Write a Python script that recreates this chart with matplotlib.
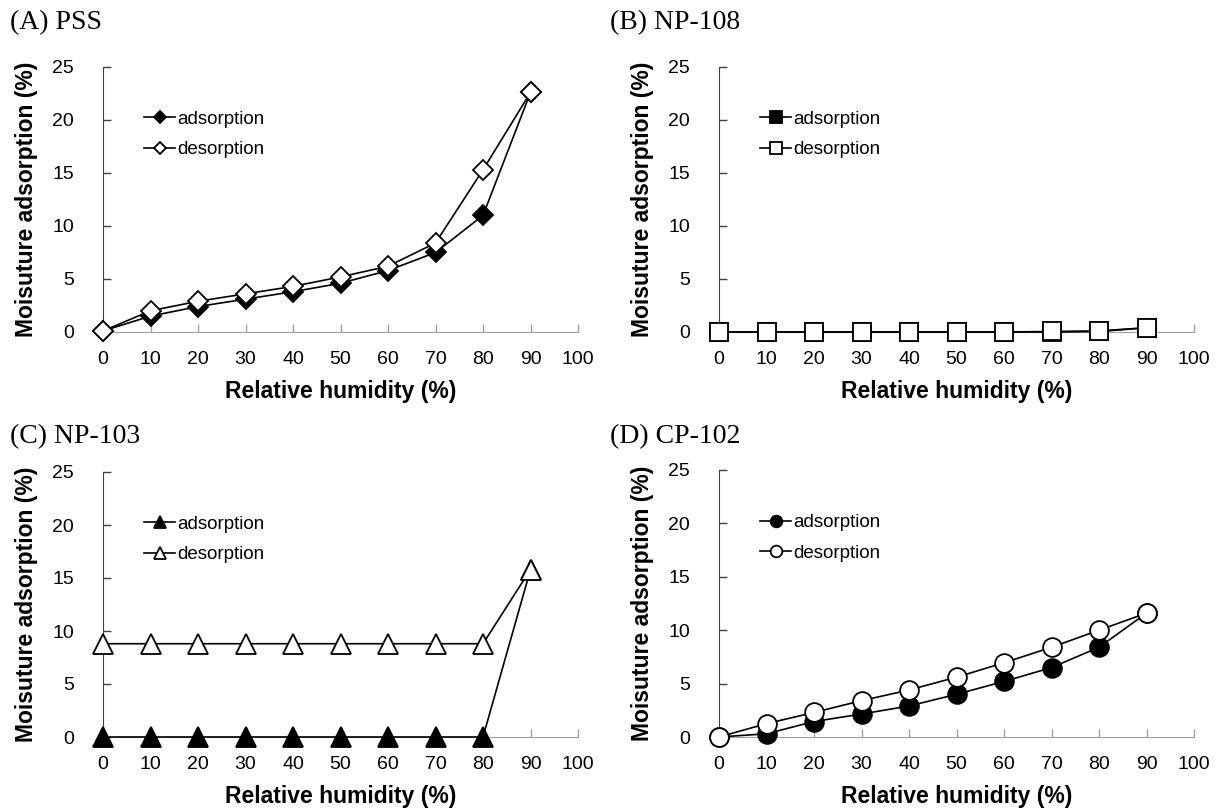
import matplotlib
matplotlib.use("Agg")
import matplotlib.pyplot as plt

plt.rcParams["font.family"] = ["Liberation Sans", "DejaVu Sans"]

humidity = [0, 10, 20, 30, 40, 50, 60, 70, 80, 90]
x_ticks = [0, 10, 20, 30, 40, 50, 60, 70, 80, 90, 100]
y_ticks = [0, 5, 10, 15, 20, 25]

titles = ["(A) PSS", "(B) NP-108", "(C) NP-103", "(D) CP-102"]
series_labels = ["adsorption", "desorption"]

pss_ads = [0.1, 1.5, 2.4, 3.1, 3.8, 4.6, 5.8, 7.5, 11.0, 22.6]
pss_des = [0.1, 2.0, 2.9, 3.6, 4.3, 5.2, 6.2, 8.4, 15.3, 22.6]

np108_ads = [0, 0, 0, 0, 0, 0, 0, 0, 0.05, 0.4]
np108_des = [0, 0, 0, 0, 0, 0, 0, 0.05, 0.1, 0.4]

np103_ads = [0, 0, 0, 0, 0, 0, 0, 0, 0, 15.8]
np103_des = [8.8, 8.8, 8.8, 8.8, 8.8, 8.8, 8.8, 8.8, 8.8, 15.8]

cp102_ads = [0, 0.3, 1.45, 2.15, 2.9, 4.0, 5.2, 6.5, 8.4, 11.6]
cp102_des = [0, 1.25, 2.3, 3.4, 4.4, 5.6, 6.95, 8.4, 10.0, 11.6]

panel_data = [(pss_ads, pss_des), (np108_ads, np108_des),
              (np103_ads, np103_des), (cp102_ads, cp102_des)]
markers = ["D", "s", "^", "o"]
marker_sizes = [10, 13.5, 15, 13.5]

W, H = 1220, 809
# axes boxes in pixels: left, top, right, bottom
boxes = [(103, 67, 578, 332), (719, 67, 1194, 332),
         (103, 472, 578, 737), (719, 470, 1194, 737)]
title_pos = [(10, 23), (610, 23), (10, 437), (610, 437)]

fig = plt.figure(figsize=(W / 100, H / 100), dpi=100)

for i in range(4):
    l, t, r, b = boxes[i]
    ax = fig.add_axes([l / W, (H - b) / H, (r - l) / W, (b - t) / H])
    ads, des = panel_data[i]
    m = markers[i]
    ms = marker_sizes[i]
    ax.plot(humidity, ads, color="black", lw=1.2, marker=m, ms=ms,
            mfc="black", mec="black", mew=1.3, clip_on=False, zorder=3,
            label=series_labels[0])
    ax.plot(humidity, des, color="black", lw=1.2, marker=m, ms=ms,
            mfc="white", mec="black", mew=1.3, clip_on=False, zorder=4,
            label=series_labels[1])

    ax.set_xlim(0, 100)
    ax.set_ylim(0, 25)
    ax.set_xticks(x_ticks)
    ax.set_yticks(y_ticks)
    for s in ["top", "right"]:
        ax.spines[s].set_visible(False)
    ax.spines["left"].set_color("#404040")
    ax.spines["bottom"].set_color("#a0a0a0")
    ax.tick_params(axis="x", direction="in", length=6, width=1,
                   color="#a0a0a0", pad=14, labelsize=14)
    ax.tick_params(axis="y", direction="in", length=6, width=1,
                   color="#404040", pad=21, labelsize=14)
    ax.set_xlabel("Relative humidity (%)", fontsize=16.5, fontweight="bold",
                  labelpad=8)
    ax.set_ylabel("Moisuture adsorption (%)", fontsize=16.5,
                  fontweight="bold", labelpad=10)
    ax.legend(loc="upper left", bbox_to_anchor=(0.087, 0.835), frameon=False,
              fontsize=13.5, handlelength=1.65, handletextpad=0.1,
              labelspacing=0.72, borderpad=0, borderaxespad=0,
              markerscale=0.62)

    tx, ty = title_pos[i]
    fig.text(tx / W, (H - ty) / H, titles[i], family="Liberation Serif",
             fontsize=20, ha="left", va="center")

fig.savefig("out.png", dpi=100)
